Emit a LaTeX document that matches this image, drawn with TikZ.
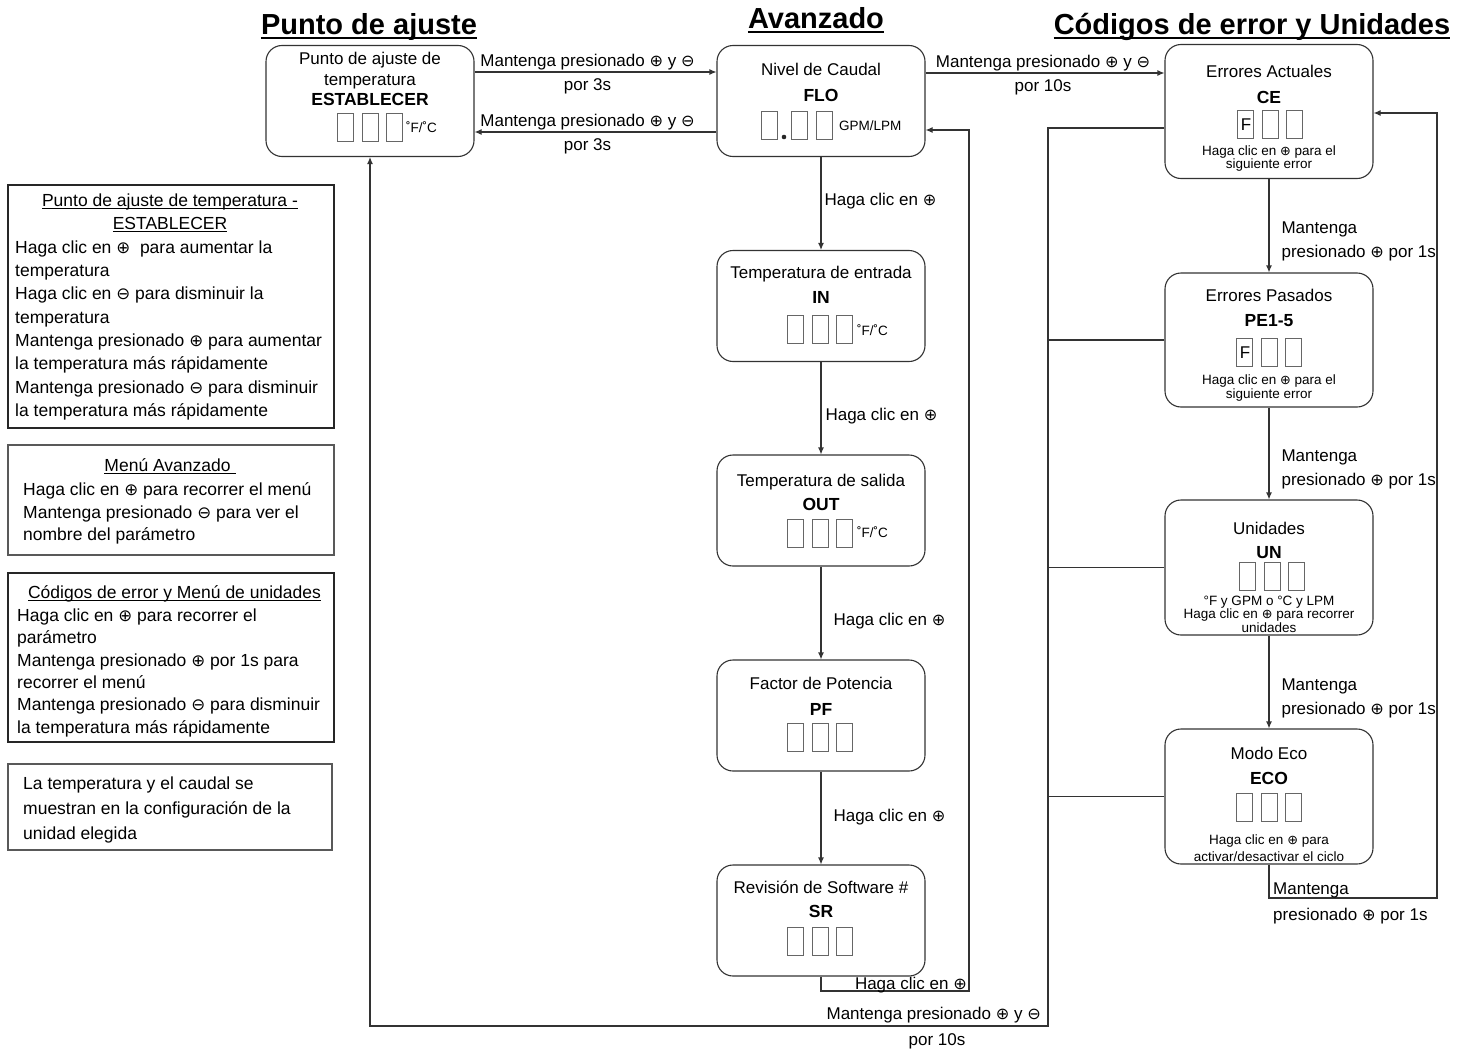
\documentclass[tikz,border=0pt]{standalone}
\usepackage{fontspec}
\setmainfont{Liberation Sans}
\newfontfamily\symfont[Scale=0.95]{DejaVu Sans}
\usetikzlibrary{arrows.meta,positioning}

% Buttons and helpers
\newcommand\btnp{{\symfont ⊕}}
\newcommand\btnm{{\symfont ⊖}}
\newsavebox\ulbox
\newcommand\ulbar[1]{\sbox\ulbox{#1}\rlap{\rule[-2.5pt]{\wd\ulbox}{0.9pt}}\usebox\ulbox}
\newcommand\digitrow[2]{%
  \draw[digit] ({#1-32.5},#2) rectangle ++(16,28);
  \draw[digit] ({#1-8},#2) rectangle ++(16,28);
  \draw[digit] ({#1+16.5},#2) rectangle ++(16,28);}

\tikzset{
  menubox/.style={draw=black!80, line width=1.1pt, rounded corners=16pt, minimum width=208pt, minimum height=111pt, inner sep=0pt},
  tallbox/.style={menubox, minimum height=134pt},
  notebox/.style={draw=black!85, line width=1.8pt, minimum width=326pt, inner sep=0pt},
  thinbox/.style={notebox, draw=black!65, line width=1.1pt},
  heading/.style={font=\fontsize{29}{34}\selectfont\bfseries, inner sep=0pt, text height=21pt, text depth=0pt},
  boxtitle/.style={font=\fontsize{17}{20}\selectfont, inner sep=0pt, text height=12pt, text depth=0pt},
  boxcode/.style={boxtitle, font=\fontsize{17.5}{20}\selectfont\bfseries},
  unit/.style={font=\fontsize{13.5}{16}\selectfont, inner sep=0pt, text height=9.5pt, text depth=0pt, anchor=west},
  hint/.style={font=\fontsize{13.5}{#1}\selectfont, align=center, inner sep=0pt},
  hint/.default=13.5,
  notetitle/.style={font=\fontsize{17.5}{21}\selectfont, inner sep=0pt, text height=12.5pt, text depth=0pt},
  notebody/.style={font=\fontsize{17.5}{#1}\selectfont, align=left, inner sep=0pt, anchor=north west},
  lbl/.style={font=\fontsize{17}{24}\selectfont, inner sep=0pt},
  lbl1/.style={lbl, text height=12pt, text depth=0pt},
  arr/.style={draw=black!80, line width=1.1pt, -{Latex[length=7pt,width=6pt]}},
  link/.style={draw=black!80, line width=1.1pt},
  digit/.style={draw=black!60, line width=0.9pt}
}

\begin{document}
\begin{tikzpicture}[x=1pt, y=-1pt]
    \useasboundingbox (0,0) rectangle (1467,1049);

    % Column headings
    \node[heading] (h-set) at (369,24) {Punto de ajuste};
    \node[heading] (h-adv) at (816,18) {Avanzado};
    \node[heading] (h-err) at (1252,24) {Códigos de error y Unidades};
    \foreach \h in {h-set,h-adv,h-err}
        \draw[line width=2.6pt] ([yshift=-3.5pt]\h.south west) -- ([yshift=-3.5pt]\h.south east);

    % Set point
    \node[menubox] (set) at (370,101) {};
    \node[boxtitle] (set-name1) at (370,59) {Punto de ajuste de};
    \node[boxtitle] (set-name2) at (370,79) {temperatura};
    \node[boxcode] (set-code) at (370,100) {ESTABLECER};
    \digitrow{370}{113}
    \node[unit] (set-unit) at (406,128) {˚F/˚C};

    % Advanced menu
    \node[menubox] (flo) at (821,101) {};
    \node[boxtitle] (flo-name) at (821,70) {Nivel de Caudal};
    \node[boxcode] (flo-code) at (821,95) {FLO};
    \foreach \x in {761,791,816}
        \draw[digit] (\x,111) rectangle ++(16,28);
    \fill[black!85] (784,137) circle (2.3);
    \node[unit] (flo-unit) at (839,126) {GPM/LPM};

    \node[menubox] (temp-in) at (821,306) {};
    \node[boxtitle] (in-name) at (821,272.5) {Temperatura de entrada};
    \node[boxcode] (in-code) at (821,297.5) {IN};
    \digitrow{820}{315}
    \node[unit] (in-unit) at (857,331) {˚F/˚C};

    \node[menubox] (temp-out) at (821,510.5) {};
    \node[boxtitle] (out-name) at (821,480) {Temperatura de salida};
    \node[boxcode] (out-code) at (821,504) {OUT};
    \digitrow{820}{519}
    \node[unit] (out-unit) at (857,533) {˚F/˚C};

    \node[menubox] (pf) at (821,715.5) {};
    \node[boxtitle] (pf-name) at (821,683.5) {Factor de Potencia};
    \node[boxcode] (pf-code) at (821,709) {PF};
    \digitrow{820}{723}

    \node[menubox] (sr) at (821,920.5) {};
    \node[boxtitle] (sr-name) at (821,887) {Revisión de Software \#};
    \node[boxcode] (sr-code) at (821,911) {SR};
    \digitrow{820}{927}

    % Error codes and units
    \node[tallbox] (ce) at (1269,111.5) {};
    \node[boxtitle] (ce-name) at (1269,71.5) {Errores Actuales};
    \node[boxcode] (ce-code) at (1269,97.5) {CE};
    \digitrow{1270}{110}
    \node[boxtitle] (ce-f) at (1246,124) {F};
    \node[hint] (ce-hint) at (1269,158.5) {Haga clic en \btnp{} para el\\siguiente error};

    \node[tallbox] (pe) at (1269,340) {};
    \node[boxtitle] (pe-name) at (1269,295) {Errores Pasados};
    \node[boxcode] (pe-code) at (1269,320) {PE1-5};
    \digitrow{1269}{338}
    \node[boxtitle] (pe-f) at (1245,352) {F};
    \node[hint] (pe-hint) at (1269,388) {Haga clic en \btnp{} para el\\siguiente error};

    \node[tallbox, minimum height=135pt] (un) at (1269,567.5) {};
    \node[boxtitle] (un-name) at (1269,528) {Unidades};
    \node[boxcode] (un-code) at (1269,552) {UN};
    \digitrow{1272}{562}
    \node[hint] (un-hint) at (1269,614) {°F y GPM o °C y LPM\\Haga clic en \btnp{} para recorrer\\unidades};

    \node[tallbox, minimum height=135pt] (eco) at (1269,796.5) {};
    \node[boxtitle] (eco-name) at (1269,753) {Modo Eco};
    \node[boxcode] (eco-code) at (1269,778) {ECO};
    \digitrow{1269}{793}
    \node[hint=17] (eco-hint) at (1269,848) {Haga clic en \btnp{} para\\activar/desactivar el ciclo};

    % Top row connectors
    \draw[arr] ([yshift=29pt]set.east) -- ([yshift=29pt]flo.west)
        node[lbl, midway, align=center, xshift=-8pt, yshift=-2pt] (lbl-set-flo) {Mantenga presionado \btnp{} y \btnm\\por 3s};
    \draw[arr] ([yshift=-31pt]flo.west) -- ([yshift=-31pt]set.east)
        node[lbl, midway, align=center, xshift=-8pt, yshift=-2pt] (lbl-flo-set) {Mantenga presionado \btnp{} y \btnm\\por 3s};
    \path ([yshift=28pt]flo.east) coordinate (flo-out);
    \draw[arr] (flo-out) -- (flo-out -| ce.west)
        node[lbl, midway, align=center, xshift=-2pt, yshift=-2pt] (lbl-flo-ce) {Mantenga presionado \btnp{} y \btnm\\por 10s};

    % Advanced column
    \draw[arr] (flo) -- (temp-in) node[lbl1, midway, anchor=west, xshift=3pt, yshift=4pt] (lbl-a1) {Haga clic en \btnp};
    \draw[arr] (temp-in) -- (temp-out) node[lbl1, midway, anchor=west, xshift=4pt, yshift=-6pt] (lbl-a2) {Haga clic en \btnp};
    \draw[arr] (temp-out) -- (pf) node[lbl1, midway, anchor=west, xshift=12pt, yshift=-6pt] (lbl-a3) {Haga clic en \btnp};
    \draw[arr] (pf) -- (sr) node[lbl1, midway, anchor=west, xshift=12pt, yshift=3pt] (lbl-a4) {Haga clic en \btnp};
    \coordinate (sr-turn) at (969,991);
    \draw[arr] (sr.south) |- (sr-turn) |- ([yshift=-29pt]flo.east);
    \node[lbl1, anchor=east] (lbl-sr) at (967,983) {Haga clic en \btnp};

    % Error column
    \draw[arr] (ce) -- (pe) node[lbl, midway, anchor=west, align=left, xshift=12pt, yshift=-16pt] (lbl-e1) {Mantenga\\presionado \btnp{} por 1s};
    \draw[arr] (pe) -- (un) node[lbl, midway, anchor=west, align=left, xshift=12pt, yshift=-16pt] (lbl-e2) {Mantenga\\presionado \btnp{} por 1s};
    \draw[arr] (un) -- (eco) node[lbl, midway, anchor=west, align=left, xshift=12pt, yshift=-16pt] (lbl-e3) {Mantenga\\presionado \btnp{} por 1s};
    \coordinate (eco-turn) at (1437,898);
    \draw[arr] (eco.south) |- (eco-turn) |- ([yshift=-1.5pt]ce.east);
    \node[lbl, anchor=west, align=left, font=\fontsize{17}{26}\selectfont] (lbl-eco) at (1273,903) {Mantenga\\presionado \btnp{} por 1s};

    % Return to set point
    \path ([yshift=-16.5pt]ce.west) coordinate (ce-out);
    \coordinate (bus-end) at (1048,1026);
    \draw[arr] (ce-out) -| (bus-end) -| (set.south);
    \draw[link] (pe.west) -- (pe.west -| bus-end);
    \draw[link] (un.west) -- (un.west -| bus-end);
    \draw[link] (eco.west) -- (eco.west -| bus-end);
    \node[lbl1, anchor=east] (lbl-back1) at (1041,1013) {Mantenga presionado \btnp{} y \btnm};
    \node[lbl1] (lbl-back2) at (937,1039) {por 10s};

    % Notes on the left
    \node[notebox, minimum height=243pt] (note-set) at (171,306.5) {};
    \node[notetitle] (note-set-t1) at (170,200) {\ulbar{Punto de ajuste de temperatura -}};
    \node[notetitle] (note-set-t2) at (170,223) {\ulbar{ESTABLECER}};
    \node[notebody=23.3] (note-set-b) at (15,240.5) {Haga clic en \btnp~ para aumentar la\\temperatura\\Haga clic en \btnm{} para disminuir la\\temperatura\\Mantenga presionado \btnp{} para aumentar\\la temperatura más rápidamente\\Mantenga presionado \btnm{} para disminuir\\la temperatura más rápidamente};

    \node[thinbox, minimum height=110pt] (note-adv) at (171,500) {};
    \node[notetitle] (note-adv-t) at (170,465) {\ulbar{Menú Avanzado\ }};
    \node[notebody=22.5] (note-adv-b) at (23,482.5) {Haga clic en \btnp{} para recorrer el menú\\Mantenga presionado \btnm{} para ver el\\nombre del parámetro};

    \node[notebox, minimum height=169pt] (note-err) at (171,657.5) {};
    \node[notetitle] (note-err-t) at (174.5,592) {\ulbar{Códigos de error y Menú de unidades}};
    \node[notebody=22.4] (note-err-b) at (17,608.5) {Haga clic en \btnp{} para recorrer el\\parámetro\\Mantenga presionado \btnp{} por 1s para\\recorrer el menú\\Mantenga presionado \btnm{} para disminuir\\la temperatura más rápidamente};

    \node[thinbox, minimum width=324pt, minimum height=86pt] (note-unit) at (170,807) {};
    \node[notebody=25] (note-unit-b) at (23,776.5) {La temperatura y el caudal se\\muestran en la configuración de la\\unidad elegida};

\end{tikzpicture}
\end{document}
